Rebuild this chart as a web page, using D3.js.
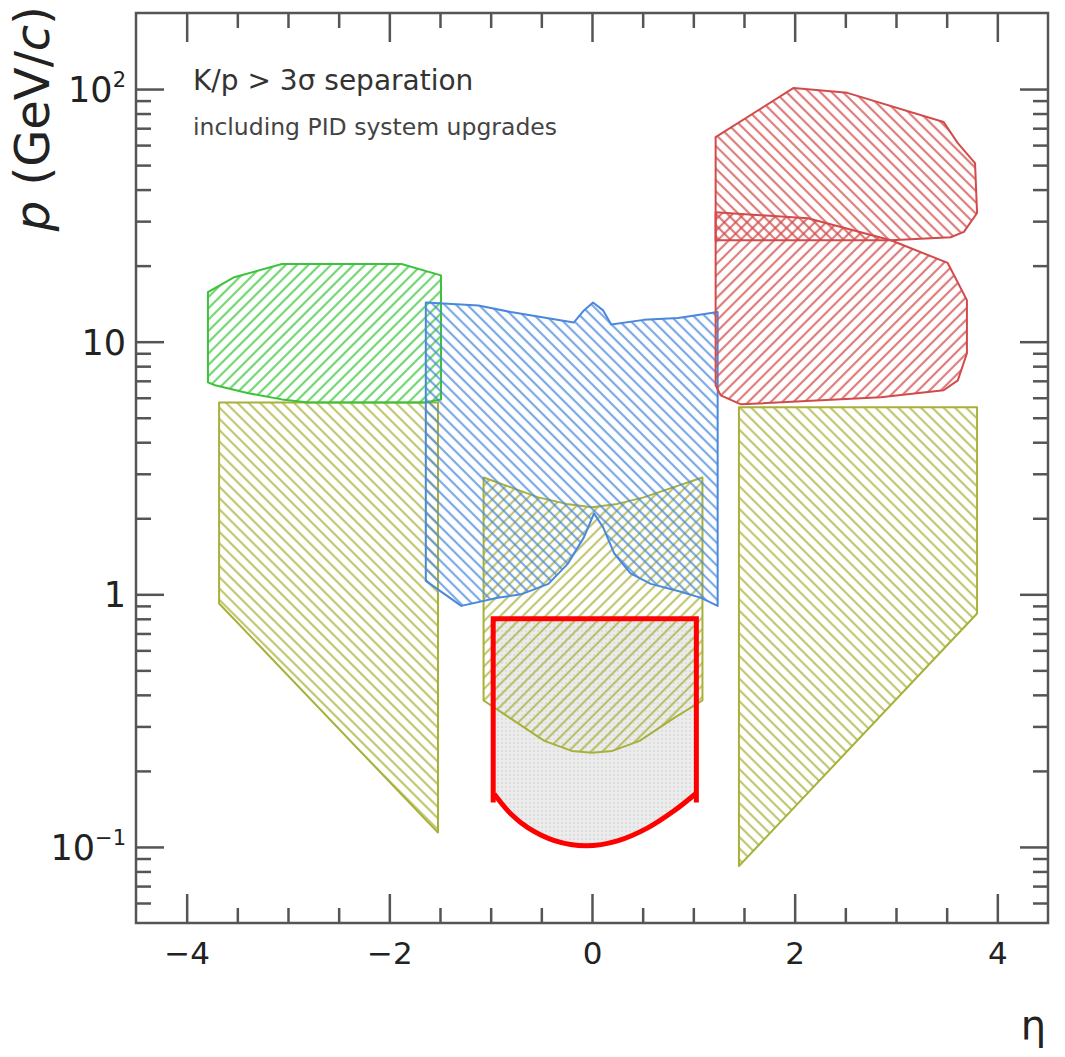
<!DOCTYPE html>
<html>
<head>
<meta charset="utf-8">
<script src="https://cdn.jsdelivr.net/npm/d3@7"></script>
<style>
  body { margin:0; background:#fff; }
  text { font-family:"DejaVu Sans", sans-serif; }
</style>
</head>
<body>
<div id="chart"></div>
<script>
// outlines as [eta, p in GeV/c]
let greenBackward = [[-3.79,15.7],[-3.53,18.0],[-3.06,20.3],[-1.88,20.3],[-1.49,18.3],[-1.49,5.9],[-1.65,5.75],
  [-2.8,5.75],[-3.06,5.91],[-3.39,6.25],[-3.72,6.72],[-3.79,6.9]]
let oliveBackward = [[-3.68,5.75],[-1.52,5.75],[-1.52,0.114],[-3.68,0.92]]
let oliveForward = [[1.45,5.5],[3.8,5.5],[3.8,0.84],[1.45,0.084]]
let oliveBarrel = [[-1.07,2.9],[-0.8,2.65],[-0.53,2.42],[-0.25,2.28],[0,2.21],[0.25,2.28],[0.51,2.42],[0.8,2.65],[1.09,2.9],
  [1.09,0.38],[0.8,0.322],[0.47,0.263],[0.2,0.24],[0,0.236],[-0.2,0.24],[-0.47,0.263],[-0.8,0.322],[-1.07,0.38]]
let blueBarrel = [[-1.64,14.3],[-1.12,13.9],[-0.8,13.1],[-0.18,11.9],[-0.08,13.3],[0.01,14.3],[0.11,13.3],[0.19,11.7],
  [0.51,12.2],[0.85,12.4],[1.24,13.1],[1.24,0.90],[1.07,0.97],[0.85,1.03],[0.58,1.10],[0.38,1.21],[0.22,1.45],
  [0.11,1.84],[0.02,2.09],[-0.08,1.68],[-0.24,1.32],[-0.43,1.10],[-0.70,1.0],[-0.93,0.97],[-1.29,0.90],[-1.64,1.13]]
let redForwardHigh = [[1.22,64.5],[1.99,101],[2.52,96.6],[3.47,74.1],[3.61,61.1],[3.78,50.9],[3.8,32.3],[3.67,27.2],
  [3.54,25.9],[2.95,25.2],[1.22,25.2]]
let redForwardLow = [[1.22,32.5],[2.13,30.8],[2.95,25.2],[3.51,20.5],[3.7,14.6],[3.7,9.0],[3.61,7.03],[3.47,6.42],
  [2.85,6.02],[1.47,5.65],[1.27,6.13],[1.22,6.72]]
let redBoxSides = [[-0.975,0.15],[-0.975,0.8],[1.03,0.8],[1.03,0.15]]
let redBoxArc = [[-0.965,0.162],[-0.80,0.135],[-0.63,0.119],[-0.37,0.106],[-0.06,0.101],[0.26,0.106],[0.55,0.119],
  [0.81,0.139],[1.02,0.162]]

let xMajorTicks = [-4,-2,0,2,4]
let xMinorTicks = [-3.5,-3,-2.5,-1.5,-1,-0.5,0.5,1,1.5,2.5,3,3.5]
let yMajorTicks = [0.1,1,10,100]
let yTickLabels = [["10","−1"],["1",""],["10",""],["10","2"]]
let yMinorTicks = [0.06,0.07,0.08,0.09,0.2,0.3,0.4,0.5,0.6,0.7,0.8,0.9,2,3,4,5,6,7,8,9,20,30,40,50,60,70,80,90]

let width = 1065, height = 1057,
    margin = { top:13, left:136, right:17, bottom:134 },
    innerWidth = width - margin.left - margin.right,
    innerHeight = height - margin.top - margin.bottom

let xScale = d3.scaleLinear().domain([-4.5,4.5]).range([0,innerWidth])
let yScale = d3.scaleLog().domain([0.05,200]).range([innerHeight,0])

let svg = d3.select("#chart").append("svg").attr("width",width).attr("height",height)
let defs = svg.append("defs")

function hatch(id, color, angle){
  let p = defs.append("pattern").attr("id",id)
    .attr("patternUnits","userSpaceOnUse").attr("width",8).attr("height",8)
    .attr("patternTransform",`rotate(${angle})`)
  p.append("line").attr("x1",4).attr("y1",-1).attr("x2",4).attr("y2",9)
    .attr("stroke",color).attr("stroke-width",2.2).attr("stroke-opacity",0.72)
}
hatch("hGreen","#3cc63c",45)
hatch("hOliveB","#aab23a",-45)
hatch("hOliveF","#aab23a",45)
hatch("hBlue","#4a88dd",-45)
hatch("hRedA","#d24a4a",-45)
hatch("hRedB","#d24a4a",45)
let dots = defs.append("pattern").attr("id","dots").attr("patternUnits","userSpaceOnUse").attr("width",4).attr("height",4)
dots.append("rect").attr("width",4).attr("height",4).attr("fill","#ececec")
dots.append("circle").attr("cx",2).attr("cy",2).attr("r",0.8).attr("fill","#cdcdcd")

defs.append("clipPath").attr("id","plotClip").append("rect").attr("width",innerWidth).attr("height",innerHeight)

let g = svg.append("g").attr("transform",`translate(${margin.left},${margin.top})`)
let plot = g.append("g").attr("clip-path","url(#plotClip)")

let line = d3.line().x(d=>xScale(d[0])).y(d=>yScale(d[1]))
let arcLine = d3.line().x(d=>xScale(d[0])).y(d=>yScale(d[1])).curve(d3.curveCatmullRom)

// gray box first so the hatches lie over it
plot.append("path")
  .attr("d", line(redBoxSides.concat(redBoxArc.slice().reverse())) + "Z")
  .attr("fill","url(#dots)").attr("stroke","none")

let regions = [
  { pts: oliveBackward, fill:"hOliveB", color:"#a8b03a" },
  { pts: oliveForward,  fill:"hOliveB", color:"#a8b03a" },
  { pts: oliveBarrel,   fill:"hOliveF", color:"#a8b03a" },
  { pts: greenBackward, fill:"hGreen",  color:"#3cc23c" },
  { pts: blueBarrel,    fill:"hBlue",   color:"#4a88dd" },
  { pts: redForwardHigh,fill:"hRedA",   color:"#d24a4a" },
  { pts: redForwardLow, fill:"hRedB",   color:"#d24a4a" }
]
plot.selectAll("path.region").data(regions).enter().append("path")
  .attr("class","region")
  .attr("d", d => line(d.pts) + "Z")
  .attr("fill", d => `url(#${d.fill})`)
  .attr("stroke", d => d.color)
  .attr("stroke-width",2)
  .attr("stroke-linejoin","round")

plot.append("path").attr("d",line(redBoxSides)).attr("fill","none")
  .attr("stroke","#ff0000").attr("stroke-width",5).attr("stroke-linejoin","miter")
plot.append("path").attr("d",arcLine(redBoxArc)).attr("fill","none")
  .attr("stroke","#ff0000").attr("stroke-width",5)

// axes, ticks pointing inward on all four sides
let minus = d => d < 0 ? "−" + Math.abs(d) : "" + d
let axes = [
  g.append("g").attr("transform",`translate(0,${innerHeight})`)
    .call(d3.axisBottom(xScale).tickValues(xMajorTicks).tickSize(-29).tickPadding(19).tickFormat(minus)),
  g.append("g").attr("transform",`translate(0,${innerHeight})`)
    .call(d3.axisBottom(xScale).tickValues(xMinorTicks).tickSize(-15).tickFormat("")),
  g.append("g").call(d3.axisTop(xScale).tickValues(xMajorTicks).tickSize(-29).tickFormat("")),
  g.append("g").call(d3.axisTop(xScale).tickValues(xMinorTicks).tickSize(-15).tickFormat("")),
  g.append("g").call(d3.axisLeft(yScale).tickValues(yMajorTicks).tickSize(-28).tickFormat("")),
  g.append("g").call(d3.axisLeft(yScale).tickValues(yMinorTicks).tickSize(-15).tickFormat("")),
  g.append("g").attr("transform",`translate(${innerWidth},0)`)
    .call(d3.axisRight(yScale).tickValues(yMajorTicks).tickSize(-28).tickFormat("")),
  g.append("g").attr("transform",`translate(${innerWidth},0)`)
    .call(d3.axisRight(yScale).tickValues(yMinorTicks).tickSize(-15).tickFormat(""))
]
axes.forEach(a => {
  a.select(".domain").remove()
  a.selectAll(".tick line").attr("stroke","#555").attr("stroke-width",2.5)
  a.selectAll(".tick text").filter(function(){ return this.textContent === "" }).remove()
  a.selectAll(".tick text").attr("font-size",31).attr("fill","#222")
    .attr("font-family","DejaVu Sans, sans-serif")
})

g.append("rect").attr("width",innerWidth).attr("height",innerHeight)
  .attr("fill","none").attr("stroke","#555").attr("stroke-width",2.5)

let ylab = g.selectAll("text.ylab").data(yMajorTicks).enter().append("text")
  .attr("class","ylab")
  .attr("x",-10).attr("y",d=>yScale(d)+13)
  .attr("text-anchor","end").attr("font-size",35).attr("fill","#222")
ylab.append("tspan").text((d,i)=>yTickLabels[i][0])
ylab.filter((d,i)=>yTickLabels[i][1] !== "")
  .append("tspan").attr("font-size",21).attr("dy",-15).text((d,i)=>yTickLabels[yMajorTicks.indexOf(d)][1])

// titles
svg.append("text").attr("x",193).attr("y",90).attr("font-size",28).attr("fill","#333")
  .text("K/p > 3σ separation")
svg.append("text").attr("x",193).attr("y",135).attr("font-size",23.5).attr("fill","#444")
  .text("including PID system upgrades")

let yTitle = svg.append("text").attr("transform","translate(49,6) rotate(-90)")
  .attr("text-anchor","end").attr("font-size",48).attr("fill","#222")
yTitle.append("tspan").attr("font-style","italic").text("p")
yTitle.append("tspan").text(" (GeV/")
yTitle.append("tspan").attr("font-style","italic").text("c")
yTitle.append("tspan").text(")")

svg.append("text").attr("x",1046).attr("y",1039).attr("text-anchor","end")
  .attr("font-size",40).attr("fill","#222").text("η")
</script>
</body>
</html>
